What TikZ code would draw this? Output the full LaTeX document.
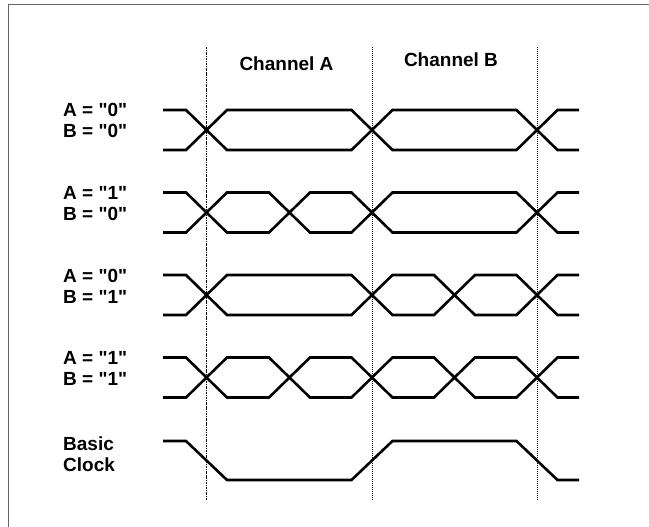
\documentclass[tikz,border=0pt]{standalone}
\usepackage{fontspec}
\setmainfont{Liberation Sans}
\newcommand\qq{\textquotedbl}
\begin{document}
\begin{tikzpicture}[x=1pt,y=-1pt,
  wave/.style={line width=2.6pt, line join=miter},
  lbl/.style={font=\fontsize{19}{21}\selectfont\bfseries, anchor=base west, inner sep=0pt},
  ttl/.style={font=\fontsize{19}{21}\selectfont\bfseries, anchor=base, inner sep=0pt},
  gridA/.style={line width=0.9pt, dash pattern=on 2.5pt off 1pt on 0.8pt off 1pt},
  gridB/.style={line width=1pt, dash pattern=on 1.2pt off 0.8pt}]
\useasboundingbox (0,0) rectangle (649,527);
\draw[black!60, line width=1pt] (8,527) -- (8,5) -- (649,5);
% vertical guides
\coordinate (g1t) at (206.5,47); \coordinate (g1b) at (206.5,501);
\coordinate (g2t) at (372,47);   \coordinate (g2b) at (372,501);
\coordinate (g3t) at (537,47);   \coordinate (g3b) at (537,501);
\draw[gridA] (g1t) -- (g1b);
\draw[gridB] (g2t) -- (g2b);
\draw[gridB] (g3t) -- (g3b);
% titles
\node[ttl] (cha) at (286.5,70.5) {Channel A};
\node[ttl] (chb) at (451,67) {Channel B};
% row 1
\def\t{110}\def\b{150}
\draw[wave] (163,\t)--(186,\t)--(227,\b)--(351.5,\b)--(392.5,\t)--(516.5,\t)--(557.5,\b)--(579,\b);
\draw[wave] (163,\b)--(186,\b)--(227,\t)--(351.5,\t)--(392.5,\b)--(516.5,\b)--(557.5,\t)--(579,\t);
\node[lbl] (r1a) at (63,117) {A = \qq0\qq};
\node[lbl] (r1b) at (63,138) {B = \qq0\qq};
% row 2
\def\t{192.5}\def\b{232.5}
\draw[wave] (163,\t)--(186,\t)--(227,\b)--(269,\b)--(310,\t)--(351.5,\t)--(392.5,\b)--(516.5,\b)--(557.5,\t)--(579,\t);
\draw[wave] (163,\b)--(186,\b)--(227,\t)--(269,\t)--(310,\b)--(351.5,\b)--(392.5,\t)--(516.5,\t)--(557.5,\b)--(579,\b);
\node[lbl] (r2a) at (63,199.5) {A = \qq1\qq};
\node[lbl] (r2b) at (63,220.5) {B = \qq0\qq};
% row 3
\def\t{275}\def\b{315}
\draw[wave] (163,\t)--(186,\t)--(227,\b)--(351.5,\b)--(392.5,\t)--(434,\t)--(475,\b)--(516.5,\b)--(557.5,\t)--(579,\t);
\draw[wave] (163,\b)--(186,\b)--(227,\t)--(351.5,\t)--(392.5,\b)--(434,\b)--(475,\t)--(516.5,\t)--(557.5,\b)--(579,\b);
\node[lbl] (r3a) at (63,282) {A = \qq0\qq};
\node[lbl] (r3b) at (63,303) {B = \qq1\qq};
% row 4
\def\t{357.5}\def\b{397.5}
\draw[wave] (163,\t)--(186,\t)--(227,\b)--(269,\b)--(310,\t)--(351.5,\t)--(392.5,\b)--(434,\b)--(475,\t)--(516.5,\t)--(557.5,\b)--(579,\b);
\draw[wave] (163,\b)--(186,\b)--(227,\t)--(269,\t)--(310,\b)--(351.5,\b)--(392.5,\t)--(434,\t)--(475,\b)--(516.5,\b)--(557.5,\t)--(579,\t);
\node[lbl] (r4a) at (63,364.5) {A = \qq1\qq};
\node[lbl] (r4b) at (63,385.5) {B = \qq1\qq};
% clock
\draw[wave] (163,441)--(186,441)--(227,480)--(351.5,480)--(392.5,441)--(516.5,441)--(557.5,480)--(579,480);
\node[lbl] (ck1) at (63,450.5) {Basic};
\node[lbl] (ck2) at (63,471) {Clock};
\end{tikzpicture}
\end{document}
